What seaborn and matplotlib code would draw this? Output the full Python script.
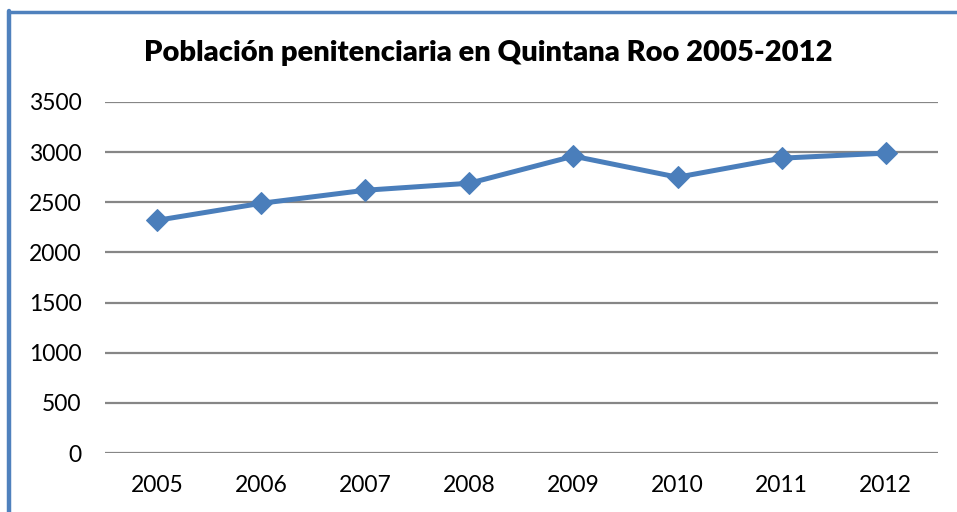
import pandas as pd
import numpy as np
import matplotlib
matplotlib.use('Agg')
import matplotlib.pyplot as plt
import seaborn as sns
from matplotlib.lines import Line2D

years = ['2005', '2006', '2007', '2008', '2009', '2010', '2011', '2012']
poblacion = [2320, 2490, 2620, 2690, 2960, 2750, 2940, 2990]
yticks = [0, 500, 1000, 1500, 2000, 2500, 3000, 3500]

df = pd.DataFrame({'anio': years, 'poblacion': poblacion})

sns.set_style('white')
plt.rcParams['font.family'] = ['Lato', 'DejaVu Sans']

fig, ax = plt.subplots(figsize=(9.57, 5.12), dpi=100)
fig.subplots_adjust(left=0.1097, right=0.980, top=0.8008, bottom=0.1152)

blue = '#4A7EBB'
sns.lineplot(data=df, x='anio', y='poblacion', ax=ax, color=blue, lw=3.6,
             marker='D', markersize=11, markeredgecolor=blue, sort=False)

ax.set_ylim(0, 3500)
ax.set_xlim(-0.5, len(years) - 0.5)
ax.set_yticks(yticks)
ax.set_yticklabels([str(t) for t in yticks])
ax.yaxis.grid(True, color='#868686', lw=1.6)
ax.set_axisbelow(True)
for s in ax.spines.values():
    s.set_visible(False)
ax.tick_params(axis='both', length=0, labelsize=16.5, colors='black')
ax.tick_params(axis='y', pad=17)
ax.tick_params(axis='x', pad=16)
ax.set_xlabel('')
ax.set_ylabel('')

fig.text(0.510, 0.896, 'Población penitenciaria en Quintana Roo 2005-2012',
         ha='center', va='center', fontsize=21, fontweight='heavy', color='black')

# chart frame (cropped)
fig.add_artist(Line2D([9 / 957, 1], [1 - 12 / 512, 1 - 12 / 512], transform=fig.transFigure,
                      color='#4F81BD', lw=2.5))
fig.add_artist(Line2D([9 / 957, 9 / 957], [0, 1 - 11 / 512], transform=fig.transFigure,
                      color='#4F81BD', lw=3.2))

plt.savefig('out.png', dpi=100)
